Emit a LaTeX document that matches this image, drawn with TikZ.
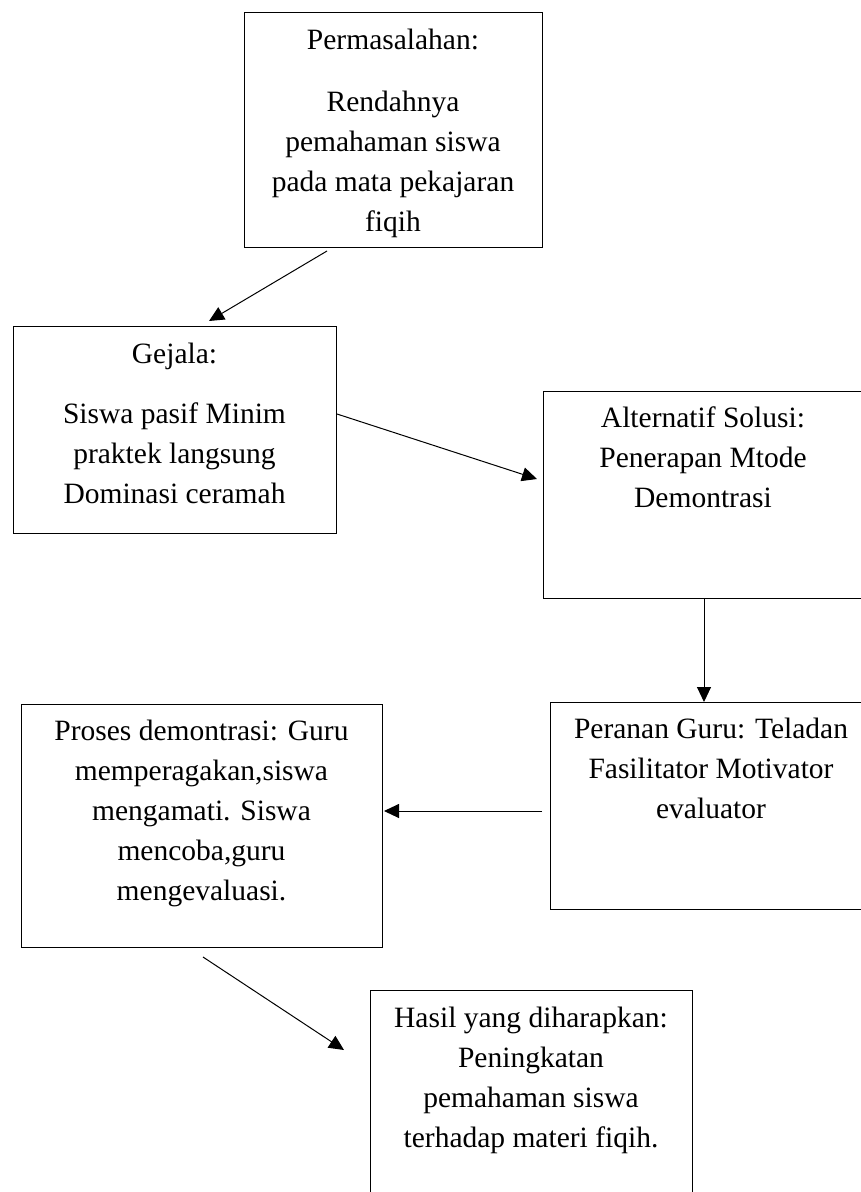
\documentclass[tikz,border=0pt]{standalone}
\usepackage{fontspec}
\setmainfont{Liberation Serif}
\usetikzlibrary{arrows.meta}
\tikzset{
  box/.style={draw=black, line width=1pt, inner sep=0pt, rectangle},
  txt/.style={align=center, inner sep=0pt, anchor=base, font=\fontsize{29.5}{40}\selectfont},
  arr/.style={line width=1pt, -{Triangle[length=15pt,width=14pt]}}
}
\begin{document}
\begin{tikzpicture}[x=1pt,y=-1pt]
\useasboundingbox (0,0) rectangle (861,1192);
\clip (0,0) rectangle (861,1192);
% boxes
\node[box, minimum width=298pt, minimum height=235pt] (b1) at (393,129.5) {};
\node[box, minimum width=323pt, minimum height=207pt] (b2) at (174.5,429.5) {};
\node[box, minimum width=320pt, minimum height=207pt] (b3) at (703,494.5) {};
\node[box, minimum width=322pt, minimum height=207pt] (b4) at (711,805.5) {};
\node[box, minimum width=361pt, minimum height=243pt] (b5) at (201.5,825.5) {};
\node[box, minimum width=322pt, minimum height=260pt] (b6) at (531,1120) {};
% texts (anchored at the baseline of their last line)
\node[txt] (t1) at (393,231) {Permasalahan:\\[22pt]Rendahnya\\pemahaman siswa\\pada mata pekajaran\\fiqih};
\node[txt] (t2) at (174.5,503) {Gejala:\\[20pt]Siswa pasif Minim\\praktek langsung\\Dominasi ceramah};
\node[txt] (t3) at (703,507) {Alternatif Solusi:\\Penerapan Mtode\\Demontrasi};
\node[txt] (t4) at (711,818) {Peranan Guru: Teladan\\Fasilitator Motivator\\evaluator};
\node[txt] (t5) at (201.5,900) {Proses demontrasi: Guru\\memperagakan,siswa\\mengamati. Siswa\\mencoba,guru\\mengevaluasi.};
\node[txt] (t6) at (531,1147) {Hasil yang diharapkan:\\Peningkatan\\pemahaman siswa\\terhadap materi fiqih.};
% arrow end points
\coordinate (a1s) at (327,251);
\coordinate (a1e) at (209,321);
\coordinate (a2s) at (337,414);
\coordinate (a2e) at (537,479);
\coordinate (a3s) at (704,598);
\coordinate (a3e) at (704,702);
\coordinate (a4s) at (542,811);
\coordinate (a4e) at (384,811);
\coordinate (a5s) at (203,957);
\coordinate (a5e) at (344,1050);
\draw[arr] (a1s) -- (a1e);
\draw[arr] (a2s) -- (a2e);
\draw[arr] (a3s) -- (a3e);
\draw[arr] (a4s) -- (a4e);
\draw[arr] (a5s) -- (a5e);
\end{tikzpicture}
\end{document}
